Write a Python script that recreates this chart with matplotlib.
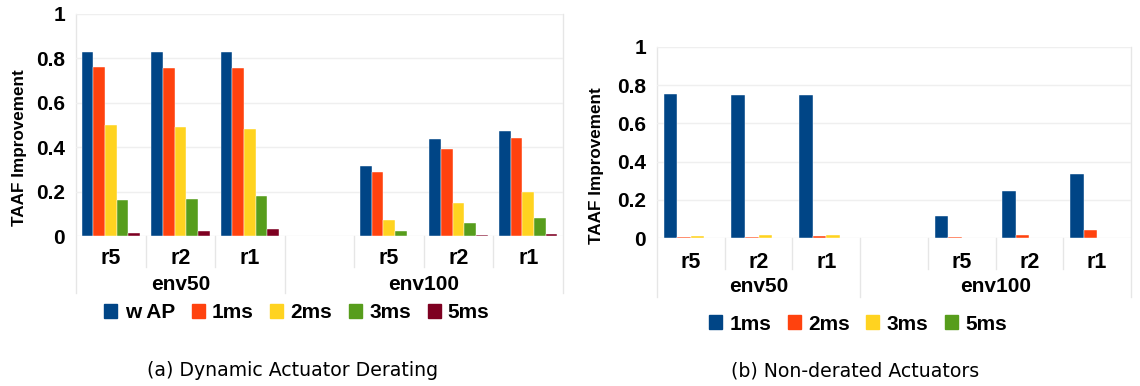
import numpy as np
import matplotlib.pyplot as plt
from matplotlib.patches import Patch
from matplotlib.transforms import blended_transform_factory

# categories: env50 (r5, r2, r1), gap, env100 (r5, r2, r1)
slots = ['r5', 'r2', 'r1', '', 'r5', 'r2', 'r1']
groups = [('env50', 0, 3), ('env100', 3, 7)]

# (a) Dynamic Actuator Derating
derate_labels = ['w AP', '1ms', '2ms', '3ms', '5ms']
derate_wap = [0.830, 0.827, 0.830, np.nan, 0.316, 0.435, 0.475]
derate_1ms = [0.762, 0.759, 0.759, np.nan, 0.290, 0.390, 0.440]
derate_2ms = [0.500, 0.490, 0.480, np.nan, 0.070, 0.149, 0.199]
derate_3ms = [0.161, 0.168, 0.179, np.nan, 0.021, 0.057, 0.081]
derate_5ms = [0.013, 0.022, 0.033, np.nan, 0.001, 0.003, 0.010]

# (b) Non-derated Actuators
nonder_labels = ['1ms', '2ms', '3ms', '5ms']
nonder_1ms = [0.755, 0.750, 0.748, np.nan, 0.114, 0.246, 0.337]
nonder_2ms = [0.005, 0.007, 0.010, np.nan, 0.003, 0.015, 0.040]
nonder_3ms = [0.008, 0.015, 0.017, np.nan, 0.000, 0.002, 0.002]
nonder_5ms = [0.000, 0.000, 0.000, np.nan, 0.000, 0.000, 0.000]

BLUE = '#004586'
ORANGE = '#ff420e'
YELLOW = '#ffd320'
GREEN = '#579d1c'
DARKRED = '#7e0021'
GRID = '#efefef'
SEP = '#e6e6e6'

W, H = 1140, 386

plt.rcParams['font.family'] = ['Liberation Sans', 'DejaVu Sans']

fig = plt.figure(figsize=(W / 100, H / 100), dpi=100)


def draw_panel(ax, series, labels, colors, group_frac, r_off, g_off, short_len, long_len):
    n = len(series)
    x = np.arange(len(slots))
    w = group_frac / n
    for i, (vals, lab, col) in enumerate(zip(series, labels, colors)):
        ax.bar(x - group_frac / 2 + w * (i + 0.5), vals, width=w, color=col,
               label=lab, edgecolor='white', linewidth=0.3, zorder=3)
    ax.set_xlim(-0.5, len(slots) - 0.5)
    ax.set_ylim(0, 1)
    ax.set_yticks([0, 0.2, 0.4, 0.6, 0.8, 1.0])
    ax.set_yticklabels(['0', '0.2', '0.4', '0.6', '0.8', '1'],
                       fontsize=15, fontweight='bold')
    ax.tick_params(axis='y', length=0, pad=8)
    ax.set_xticks([])
    for s in ax.spines.values():
        s.set_visible(False)
    ax.grid(axis='y', color=GRID, linewidth=1, zorder=0)

    trans = blended_transform_factory(ax.transData, ax.transAxes)
    h_px = ax.get_window_extent().height
    for i, name in enumerate(slots):
        if name:
            ax.annotate(name, (i, 0), xycoords=trans, xytext=(0, -r_off),
                        textcoords='offset pixels', ha='center', va='center',
                        fontsize=15.5, fontweight='bold')
    for name, a, b in groups:
        ax.annotate(name, ((a + b - 1) / 2, 0), xycoords=trans, xytext=(0, -g_off),
                    textcoords='offset pixels', ha='center', va='center',
                    fontsize=15, fontweight='bold')
    group_edges = {-0.5} | {b - 0.5 for _, a, b in groups}
    for k in range(len(slots) + 1):
        xe = k - 0.5
        ln = long_len if xe in group_edges else short_len
        top = 1 if xe in (-0.5, len(slots) - 0.5) else 0
        ax.plot([xe, xe], [top, -ln / h_px], transform=trans, color=SEP,
                linewidth=1, clip_on=False, zorder=1)


def add_legend(labels, colors, cx, cy):
    handles = [Patch(color=c, label=l) for c, l in zip(colors, labels)]
    fig.legend(handles=handles, loc='center', bbox_to_anchor=(cx / W, 1 - cy / H),
               ncol=len(labels), frameon=False, prop={'size': 15, 'weight': 'bold'},
               handlelength=0.62, handleheight=0.62, handletextpad=0.35,
               columnspacing=0.8, borderpad=0)


ax1 = fig.add_axes([76 / W, (H - 236) / H, 487 / W, 222 / H])
draw_panel(ax1, [derate_wap, derate_1ms, derate_2ms, derate_3ms, derate_5ms],
           derate_labels, [BLUE, ORANGE, YELLOW, GREEN, DARKRED],
           0.84, 22, 49, 31, 57)
add_legend(derate_labels, [BLUE, ORANGE, YELLOW, GREEN, DARKRED], 297, 313)
fig.text(20 / W, 1 - 148 / H, 'TAAF Improvement', rotation=90, ha='center',
         va='center', fontsize=12.3, fontweight='bold')

ax2 = fig.add_axes([657 / W, (H - 238) / H, 474 / W, 191 / H])
draw_panel(ax2, [nonder_1ms, nonder_2ms, nonder_3ms, nonder_5ms],
           nonder_labels, [BLUE, ORANGE, YELLOW, GREEN],
           0.8, 24, 49, 31, 59)
add_legend(nonder_labels, [BLUE, ORANGE, YELLOW, GREEN], 858, 324)
fig.text(597 / W, 1 - 166 / H, 'TAAF Improvement', rotation=90, ha='center',
         va='center', fontsize=12.3, fontweight='bold')

fig.text(293 / W, 1 - 371 / H, '(a) Dynamic Actuator Derating',
         family='DejaVu Sans', fontsize=13.6, ha='center', va='center')
fig.text(855 / W, 1 - 371 / H, '(b) Non-derated Actuators',
         family='DejaVu Sans', fontsize=13.6, ha='center', va='center')

fig.savefig('out.png', dpi=100)
